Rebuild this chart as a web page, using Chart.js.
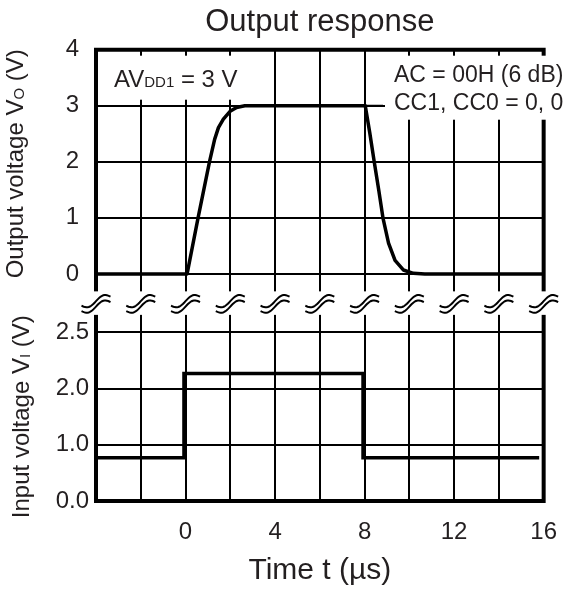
<!DOCTYPE html>
<html lang="en">
<head>
<meta charset="UTF-8">
<title>Output response</title>
<script src="https://cdn.jsdelivr.net/npm/chart.js"></script>
<style>
  body { margin: 0; background: #fff; }
  #wrap { width: 574px; height: 589px; }
</style>
</head>
<body>
<div id="wrap"><canvas id="responseChart" width="574" height="589"></canvas></div>
<script>
// Output voltage VO (V) against time t (us)
const outTime = [-4, 0.07, 0.56, 1.07, 1.3, 1.47, 1.69, 1.99, 2.28, 2.65, 8.03, 8.23, 8.43, 8.63, 8.82, 9.07, 9.36, 9.73, 10.18, 10.69, 16];
const outVolt = [0, 0, 1.0, 2.0, 2.4, 2.61, 2.76, 2.9, 2.97, 3, 3, 2.52, 2.0, 1.5, 1.0, 0.55, 0.24, 0.07, 0.01, 0, 0];

// Input voltage VI, in tick steps of the lower axis (0.0, 1.0, 2.0, 2.5)
const inTime = [-4, -0.07, -0.07, 7.93, 7.93, 15.8];
const inLevel = [0.77, 0.77, 2.27, 2.27, 0.77, 0.77];

// axes
const timeGrid = [-4, -2, 0, 2, 4, 6, 8, 10, 12, 14, 16];
const timeLabels = [0, 4, 8, 12, 16];
const outTicks = [0, 1, 2, 3, 4];
const inTickLabels = ["0.0", "1.0", "2.0", "2.5"];

const FONT = "'Liberation Sans', Arial, sans-serif";
const TEXT = "#231f20";

const toPoints = (xs, ys) => xs.map((x, i) => ({ x: x, y: ys[i] }));

// draws text made of pieces, some of them smaller subscripts
function drawRich(ctx, parts, x, y) {
  let cx = x;
  for (const p of parts) {
    ctx.font = p.size + "px " + FONT;
    ctx.fillText(p.text, cx, y + (p.shift || 0));
    cx += ctx.measureText(p.text).width;
  }
}

function richWidth(ctx, parts) {
  let w = 0;
  for (const p of parts) {
    ctx.font = p.size + "px " + FONT;
    w += ctx.measureText(p.text).width;
  }
  return w;
}

function drawVertical(ctx, parts, bx, cy) {
  ctx.save();
  ctx.translate(bx, cy);
  ctx.rotate(-Math.PI / 2);
  drawRich(ctx, parts, -richWidth(ctx, parts) / 2, 0);
  ctx.restore();
}

// the double wave that marks the axis break
function drawBreak(ctx, cx, cy) {
  ctx.lineWidth = 2;
  for (const off of [-2.7, 2.7]) {
    ctx.beginPath();
    for (let i = 0; i <= 24; i++) {
      const s = i / 24;
      const px = cx - 14.5 + 29 * s;
      const py = cy + off + 3.6 * Math.sin(2 * Math.PI * s) - 9 * (s - 0.5);
      if (i === 0) ctx.moveTo(px, py);
      else ctx.lineTo(px, py);
    }
    ctx.stroke();
  }
}

const decorations = {
  id: "decorations",
  afterDraw(chart) {
    const { ctx, chartArea: a, scales } = chart;
    const x = scales.x;
    const yOut = scales.yOut;
    ctx.save();

    // top and right frame
    ctx.strokeStyle = "#000";
    ctx.lineWidth = 4;
    ctx.beginPath();
    ctx.moveTo(a.left - 2, a.top);
    ctx.lineTo(a.right + 2, a.top);
    ctx.moveTo(a.right, a.top);
    ctx.lineTo(a.right, a.bottom + 2);
    ctx.stroke();

    // white patches behind the notes and across the break
    const breakY = yOut.bottom;
    ctx.fillStyle = "#fff";
    ctx.fillRect(100, a.top + 6, 155, 44);
    ctx.fillRect(385, a.top + 6, 181, 64);
    ctx.fillRect(a.left - 10, breakY - 11.5, a.right - a.left + 20, 23.5);

    ctx.strokeStyle = "#000";
    for (const v of timeGrid) {
      drawBreak(ctx, x.getPixelForValue(v), breakY + 1);
    }

    // leader line from the falling edge to the note
    const y3 = yOut.getPixelForValue(3);
    ctx.lineWidth = 2;
    ctx.beginPath();
    ctx.moveTo(x.getPixelForValue(8.03), y3);
    ctx.lineTo(383, y3);
    ctx.stroke();

    ctx.fillStyle = TEXT;
    ctx.textBaseline = "alphabetic";
    ctx.textAlign = "left";
    drawRich(ctx, [
      { text: "AV", size: 24 },
      { text: "DD1", size: 15 },
      { text: " = 3 V", size: 24 }
    ], 114, 87);
    drawRich(ctx, [{ text: "AC = 00H (6 dB)", size: 23 }], 394, 82);
    drawRich(ctx, [{ text: "CC1, CC0 = 0, 0", size: 23 }], 394, 110);

    // axis titles with subscripts
    drawVertical(ctx, [
      { text: "Output voltage V", size: 24 },
      { text: "O", size: 15, shift: 1 },
      { text: " (V)", size: 24 }
    ], 23, (a.top + yOut.getPixelForValue(0)) / 2 + 2);
    drawVertical(ctx, [
      { text: "Input voltage V", size: 24 },
      { text: "I", size: 15, shift: 1 },
      { text: " (V)", size: 24 }
    ], 29, (scales.yIn.getPixelForValue(3) + a.bottom) / 2);

    ctx.restore();
  }
};

const gridStyle = { color: "#000", lineWidth: 2, drawTicks: false };
const tickFont = { family: FONT, size: 24 };

new Chart(document.getElementById("responseChart"), {
  type: "line",
  data: {
    datasets: [
      {
        label: "Output voltage",
        data: toPoints(outTime, outVolt),
        yAxisID: "yOut",
        borderColor: "#000",
        borderWidth: 3.5,
        borderJoinStyle: "round",
        pointRadius: 0,
        tension: 0
      },
      {
        label: "Input voltage",
        data: toPoints(inTime, inLevel),
        yAxisID: "yIn",
        borderColor: "#000",
        borderWidth: 3.5,
        pointRadius: 0,
        tension: 0
      }
    ]
  },
  options: {
    responsive: false,
    animation: false,
    events: [],
    layout: { padding: { right: 26 } },
    plugins: {
      legend: { display: false },
      tooltip: { enabled: false },
      title: {
        display: true,
        text: "Output response",
        fullSize: false,
        color: TEXT,
        font: { family: FONT, size: 31, weight: "normal" },
        padding: { top: 4, bottom: 8.5 }
      }
    },
    scales: {
      x: {
        type: "linear",
        min: -4,
        max: 16,
        afterBuildTicks: s => { s.ticks = timeGrid.map(v => ({ value: v })); },
        afterFit: s => { s.height = 88; },
        grid: gridStyle,
        border: { color: "#000", width: 4 },
        ticks: {
          color: TEXT,
          font: tickFont,
          padding: 17,
          maxRotation: 0,
          autoSkip: false,
          callback: v => (timeLabels.includes(v) ? String(v) : "")
        },
        title: {
          display: true,
          text: "Time t (µs)",
          color: TEXT,
          font: { family: FONT, size: 30 },
          padding: { top: 0, bottom: 0 }
        }
      },
      yIn: {
        type: "linear",
        position: "left",
        stack: "volts",
        stackWeight: 198,
        weight: 1,
        min: 0,
        max: 3.525,
        afterBuildTicks: s => { s.ticks = inTickLabels.map((t, i) => ({ value: i })); },
        afterFit: s => { s.width = 96; },
        grid: gridStyle,
        border: { color: "#000", width: 4 },
        ticks: {
          color: TEXT,
          font: tickFont,
          padding: 7,
          autoSkip: false,
          callback: v => inTickLabels[v]
        }
      },
      yOut: {
        type: "linear",
        position: "left",
        stack: "volts",
        stackWeight: 253,
        weight: 2,
        min: -0.517,
        max: 4,
        afterBuildTicks: s => { s.ticks = outTicks.map(v => ({ value: v })); },
        afterFit: s => { s.width = 96; },
        grid: gridStyle,
        border: { color: "#000", width: 4 },
        ticks: {
          color: TEXT,
          font: tickFont,
          padding: 17,
          autoSkip: false,
          callback: v => String(v)
        }
      }
    }
  },
  plugins: [decorations]
});
</script>
</body>
</html>
